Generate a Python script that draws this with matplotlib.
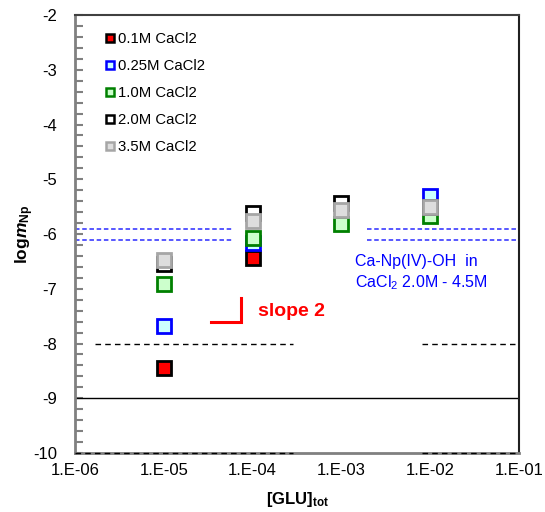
import matplotlib
matplotlib.use("Agg")
import matplotlib.pyplot as plt
from matplotlib.ticker import FixedLocator, NullLocator

plt.rcParams["font.family"] = ["Liberation Sans", "DejaVu Sans"]
plt.rcParams["mathtext.fontset"] = "custom"
plt.rcParams["mathtext.rm"] = "Liberation Sans"
plt.rcParams["mathtext.bf"] = "Liberation Sans:bold"
plt.rcParams["mathtext.it"] = "Liberation Sans:italic"
plt.rcParams["mathtext.bfit"] = "Liberation Sans:italic:bold"

# ---- data ------------------------------------------------------------------
labels = ["0.1M CaCl2", "0.25M CaCl2", "1.0M CaCl2", "2.0M CaCl2", "3.5M CaCl2"]
x_01 = [1e-5, 1e-4]
y_01 = [-8.45, -6.43]
x_025 = [1e-5, 1e-4, 1e-2]
y_025 = [-7.68, -6.16, -5.30]
x_10 = [1e-5, 1e-4, 1e-3, 1e-2]
y_10 = [-6.91, -6.07, -5.82, -5.67]
x_20 = [1e-5, 1e-4, 1e-3, 1e-2]
y_20 = [-6.55, -5.62, -5.44, -5.50]
x_35 = [1e-5, 1e-4, 1e-3, 1e-2]
y_35 = [-6.47, -5.76, -5.57, -5.51]

# reference levels
ca_np_lo, ca_np_hi = -6.11, -5.91
dash_level = -8.0
solid_level = -9.0
bottom_level = -10.0
left_seg = [10**-5.78, 10**-3.54]
left_seg_bottom = [1e-6, 10**-3.54]
right_seg = [10**-2.09, 10**-1.05]
blue_left = [1e-6, 10**-4.23]
blue_right = [10**-2.71, 1e-1]
slope_x = [10**-4.47, 10**-4.13, 10**-4.13]
slope_y = [-7.61, -7.61, -7.17]

xticks = [1e-6, 1e-5, 1e-4, 1e-3, 1e-2, 1e-1]
xticklabels = ["1.E-06", "1.E-05", "1.E-04", "1.E-03", "1.E-02", "1.E-01"]
yticks = [-2, -3, -4, -5, -6, -7, -8, -9, -10]

fig = plt.figure(figsize=(5.45, 5.12), dpi=100)
ax = fig.add_axes([0.1376, 0.1152, 0.8147, 0.8555])

styles = [
    dict(mfc="#ff0000", mec="#000000"),
    dict(mfc="#ccffff", mec="#0000ff"),
    dict(mfc="#ccffcc", mec="#008000"),
    dict(mfc="#ffffff", mec="#000000"),
    dict(mfc="#dddddd", mec="#a6a6a6"),
]
series = [(x_01, y_01), (x_025, y_025), (x_10, y_10), (x_20, y_20), (x_35, y_35)]

# reference lines
ax.hlines([ca_np_lo, ca_np_hi], *blue_left, colors="#4a4aff", lw=1.3,
          linestyles=(0, (2.5, 1.5)), zorder=2)
ax.hlines([ca_np_lo, ca_np_hi], *blue_right, colors="#4a4aff", lw=1.3,
          linestyles=(0, (2.5, 1.5)), zorder=2)
ax.hlines(dash_level, *left_seg, colors="k", lw=1.0, linestyles=(0, (4, 3)), zorder=3)
ax.hlines(bottom_level, *left_seg_bottom, colors="k", lw=1.0,
          linestyles=(0, (4, 3)), zorder=3, clip_on=False)
for lvl in (dash_level, bottom_level):
    ax.hlines(lvl, *right_seg, colors="k", lw=1.0, linestyles=(0, (4, 3)),
              zorder=3, clip_on=False)
ax.axhline(solid_level, color="k", lw=1.0, zorder=2)
ax.plot(slope_x, slope_y, color="#ff0000", lw=2.2, solid_joinstyle="miter", zorder=3)

handles = []
for (xs, ys), st, lab in zip(series, styles, labels):
    ax.plot(xs, ys, ls="none", marker="s", ms=10.5, mew=2.0, zorder=4, **st)
    h, = ax.plot([], [], ls="none", marker="s", ms=6.2, mew=1.8, label=lab, **st)
    handles.append(h)

ax.text(10**-3.94, -7.41, "slope 2", color="#ff0000", fontsize=14,
        fontweight="bold", va="center", ha="left")
ax.text(10**-2.85, -6.51, "Ca-Np(IV)-OH  in", color="#0000ff", fontsize=11.5,
        va="center", ha="left")
ax.text(10**-2.85, -6.88, "CaCl$_2$ 2.0M - 4.5M", color="#0000ff", fontsize=11.5,
        va="center", ha="left")

ax.legend(handles=handles, loc="upper left", bbox_to_anchor=(0.056, 0.975),
          frameon=False, fontsize=10.7, handlelength=0.6, handletextpad=0.25,
          labelspacing=0.88, borderaxespad=0.0)

ax.set_xscale("log")
ax.set_xlim(1e-6, 1e-1)
ax.set_ylim(-10, -2)
ax.xaxis.set_major_locator(FixedLocator(xticks))
ax.xaxis.set_minor_locator(NullLocator())
ax.set_xticklabels(xticklabels, fontsize=12)
ax.set_yticks(yticks)
ax.set_yticklabels([str(v) for v in yticks], fontsize=12)
ax.set_yticks([v / 5 for v in range(-50, -9)], minor=True)
ax.tick_params(axis="x", length=0, pad=7)
ax.tick_params(axis="y", which="both", direction="in", length=6, width=1.5,
               color="#808080", pad=13)

ax.spines["left"].set_color("#808080")
ax.spines["left"].set_linewidth(2.0)
ax.spines["bottom"].set_color("#808080")
ax.spines["bottom"].set_linewidth(2.0)
ax.spines["top"].set_color("#404040")
ax.spines["top"].set_linewidth(1.5)
ax.spines["right"].set_color("#202020")
ax.spines["right"].set_linewidth(1.5)

ax.set_xlabel(r"$\mathbf{[GLU]_{tot}}$", fontsize=12)
ax.set_ylabel(r"$\mathbf{log}\mathbfit{m}_{\mathbf{Np}}$", fontsize=12.5)
ax.xaxis.set_label_coords(0.5, -0.085)
ax.yaxis.set_label_coords(-0.087, 0.5)

fig.savefig("out.png", dpi=100)
